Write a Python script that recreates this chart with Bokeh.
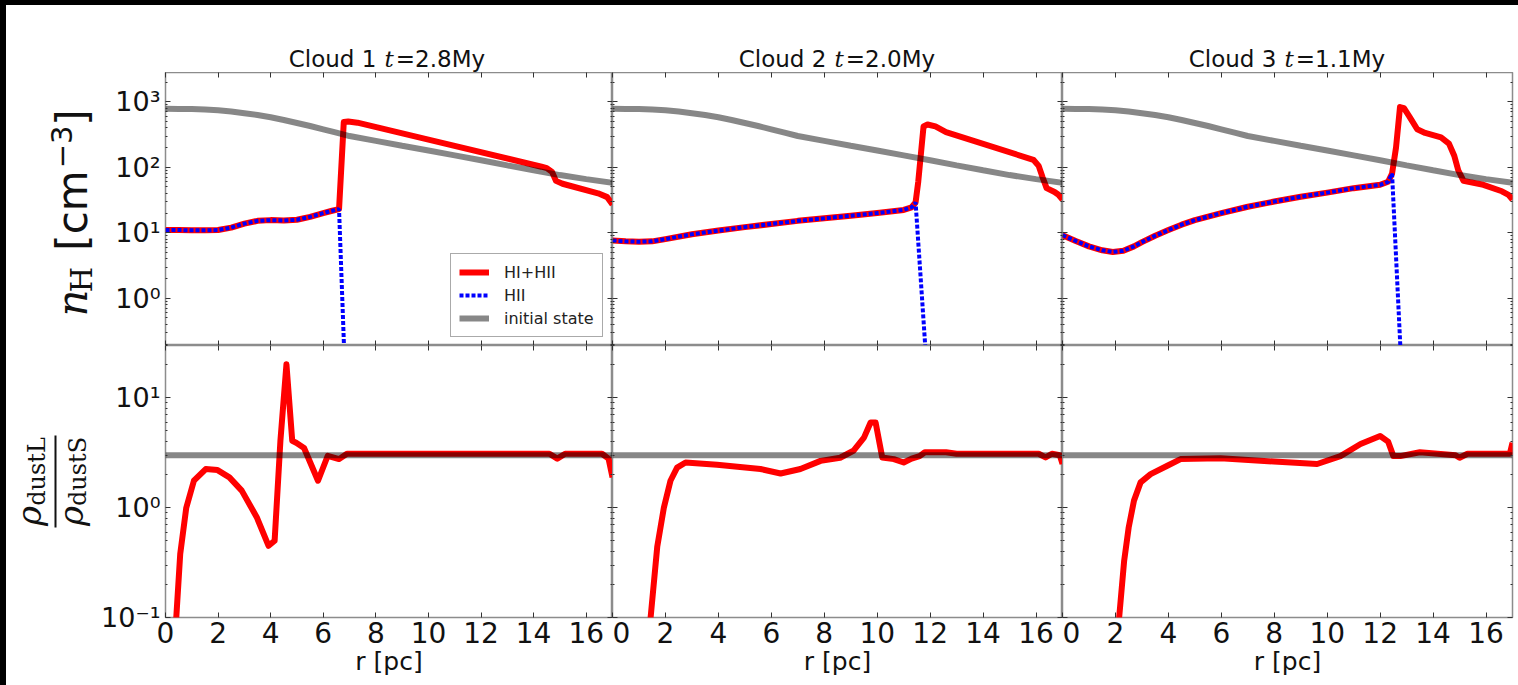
import numpy as np
from bokeh.plotting import figure
from bokeh.models import (LinearAxis, LogAxis, FixedTicker, Legend, LegendItem, Range1d, Spacer, GridBox)
from bokeh.core.properties import value
from bokeh.embed import file_html
from bokeh.resources import INLINE

# ---------------- data ----------------
titles = ["Cloud 1", "Cloud 2", "Cloud 3"]
times = ["=2.8My", "=2.0My", "=1.1My"]

r_init = [0, 0.5, 1, 1.5, 2, 2.5, 3, 3.5, 4, 4.5, 5, 5.5, 6, 6.5, 7, 8, 9, 10, 11, 12, 13, 14, 15, 16, 17]
n_init = [780, 779, 775, 762, 745, 710, 670, 627, 580, 528, 475, 427, 380, 338, 300, 253, 213, 180,
          152, 128, 107, 90, 76, 66, 58]
r_init_ratio = [0, 17]
ratio_init = [3.0, 3.0]

# Cloud 1
r1_tot = [0, 0.5, 1, 1.5, 2, 2.5, 3, 3.5, 4, 4.5, 5, 5.5, 6, 6.3, 6.6, 6.78, 6.95, 7.3, 10, 14.3,
          14.5, 14.7, 14.85, 15.1, 16.45, 16.8, 17]
n1_tot = [11, 11, 10.9, 10.9, 11, 12, 13.8, 15.2, 15.6, 15.4, 15.8, 17.5, 20, 21.5, 23, 490, 500, 480,
          264, 102, 97, 85, 62, 56, 40, 35, 27]
r1_hii = [0, 0.5, 1, 1.5, 2, 2.5, 3, 3.5, 4, 4.5, 5, 5.5, 6, 6.3, 6.6, 6.84]
n1_hii = [11, 11, 10.9, 10.9, 11, 12, 13.8, 15.2, 15.6, 15.4, 15.8, 17.5, 20, 21.5, 23, 0.05]
r1_ratio = [0.35, 0.41, 0.56, 0.79, 1.08, 1.53, 1.98, 2.43, 2.9, 3.47, 3.92, 4.15, 4.37, 4.6, 4.82,
            4.97, 5.27, 5.8, 6.17, 6.6, 6.9, 14.6, 14.9, 15.2, 16.6, 16.85, 17]
ratio1 = [0.04, 0.1, 0.38, 1.0, 1.76, 2.25, 2.2, 1.89, 1.43, 0.82, 0.45, 0.5, 4.06, 20.2, 4.06,
          3.9, 3.5, 1.76, 2.97, 2.77, 3.1, 3.1, 2.8, 3.1, 3.1, 2.8, 1.89]

# Cloud 2
r2_tot = [0, 0.5, 1, 1.5, 2, 3, 4, 5, 6, 7, 8, 9, 10, 11, 11.3, 11.45, 11.55, 11.75, 11.9, 12.2,
          12.6, 15.9, 16.1, 16.25, 16.4, 16.7, 16.85, 17]
n2_tot = [7.6, 7.4, 7.3, 7.4, 8.0, 9.5, 10.8, 12.2, 13.6, 15.2, 16.6, 18.2, 20, 22.3, 24.5, 29, 60,
          420, 450, 420, 345, 130, 105, 70, 48, 42, 38, 32]
r2_hii = [0, 0.5, 1, 1.5, 2, 3, 4, 5, 6, 7, 8, 9, 10, 11, 11.3, 11.45, 11.91]
n2_hii = [7.6, 7.4, 7.3, 7.4, 8.0, 9.5, 10.8, 12.2, 13.6, 15.2, 16.6, 18.2, 20, 22.3, 24.5, 29, 0.05]
r2_ratio = [1.38, 1.44, 1.69, 1.94, 2.19, 2.44, 2.76, 3.95, 5.59, 6.35, 7.1, 7.86, 8.6, 9.1, 9.5,
            9.75, 9.94, 10.19, 10.63, 11.0, 11.3, 11.6, 11.8, 12.6, 13, 16.1, 16.36, 16.6, 16.9, 17]
ratio2 = [0.05, 0.1, 0.44, 1.0, 1.76, 2.32, 2.58, 2.46, 2.25, 2.05, 2.25, 2.67, 2.85, 3.3, 4.35,
          5.97, 5.97, 2.87, 2.77, 2.58, 2.8, 2.95, 3.2, 3.2, 3.1, 3.1, 2.87, 3.1, 3.0, 2.5]

# Cloud 3
r3_tot = [0, 0.5, 1, 1.5, 1.9, 2.3, 2.7, 3, 3.5, 4, 4.5, 5, 6, 7, 8, 9, 10, 11, 12, 12.3, 12.45,
          12.6, 12.75, 12.9, 13.1, 13.4, 13.7, 14.3, 14.6, 14.8, 14.95, 15.15, 15.9, 16.6, 16.85, 17]
n3_tot = [9.2, 7.5, 6.2, 5.4, 5.1, 5.3, 6.2, 7.2, 9, 11, 13.3, 15.6, 20, 25, 30, 35.5, 41, 48, 54,
          60, 80, 200, 830, 800, 600, 380, 335, 285, 230, 150, 90, 62, 54, 43, 38, 32]
r3_hii = [0, 0.5, 1, 1.5, 1.9, 2.3, 2.7, 3, 3.5, 4, 4.5, 5, 6, 7, 8, 9, 10, 11, 12, 12.3, 12.45, 12.83]
n3_hii = [9.2, 7.5, 6.2, 5.4, 5.1, 5.3, 6.2, 7.2, 9, 11, 13.3, 15.6, 20, 25, 30, 35.5, 41, 48, 54,
          60, 80, 0.05]
r3_ratio = [2.1, 2.14, 2.33, 2.5, 2.7, 2.95, 3.33, 3.96, 4.46, 5.97, 7.98, 9.62, 10.5, 11.26, 12.0,
            12.3, 12.5, 12.76, 13.5, 14.85, 15.0, 15.3, 16.9, 17]
ratio3 = [0.05, 0.1, 0.33, 0.66, 1.16, 1.7, 2.02, 2.41, 2.77, 2.82, 2.63, 2.5, 2.95, 3.8, 4.5,
          4.0, 2.95, 2.95, 3.2, 3.0, 2.85, 3.1, 3.1, 3.9]

clouds = [
    (r1_tot, n1_tot, r1_hii, n1_hii, r1_ratio, ratio1),
    (r2_tot, n2_tot, r2_hii, n2_hii, r2_ratio, ratio2),
    (r3_tot, n3_tot, r3_hii, n3_hii, r3_ratio, ratio3),
]

x_ticks = [0, 2, 4, 6, 8, 10, 12, 14, 16]
top_yticks = [1, 10, 100, 1000]
top_ylabels = {1: "10\u2070", 10: "10\u00b9", 100: "10\u00b2", 1000: "10\u00b3"}
bot_yticks = [0.1, 1, 10]
bot_ylabels = {0.1: "10\u207b\u00b9", 1: "10\u2070", 10: "10\u00b9"}
legend_labels = ["HI+HII", "HII", "initial state"]

# ---------------- layout constants ----------------
STRIP_W, STRIP_H = 6, 5
YLAB_W = 92
MB1 = 64
col_w = [MB1 + 450, 450, 456]
mb_left = [MB1, 0, 0]
mb_right = [0, 0, 6]
TITLE_H = 67
TOP_H = 273
BOT_H = 340
TICK_COL = "#333333"
FRAME_COL = "#8c8c8c"
INK = "#111111"


def minor_list(k0, k1):
    return [m * 10.0 ** k for k in range(k0, k1) for m in range(2, 10)]


def style_axis(ax, labels=False, size=28):
    ax.axis_line_color = None
    ax.major_tick_in = 5
    ax.major_tick_out = 0
    ax.minor_tick_in = 2
    ax.minor_tick_out = 0
    ax.major_tick_line_color = TICK_COL
    ax.minor_tick_line_color = TICK_COL
    if labels:
        ax.major_label_text_font = "DejaVu Sans"
        ax.major_label_text_font_size = f"{size}px"
        ax.major_label_text_color = INK
        ax.major_label_standoff = 5
    else:
        ax.major_label_text_font_size = "1px"
        ax.major_label_text_color = None
        ax.major_label_standoff = 0


def make_fig(ci, top):
    if top:
        yr = (0.19, 2800)
        h, mbb = TOP_H, 0
    else:
        yr = (0.1, 30)
        h, mbb = BOT_H, 68
    p = figure(width=col_w[ci], height=h, x_range=Range1d(0, 17), y_range=Range1d(*yr),
               y_axis_type="log", x_axis_location=None, y_axis_location=None,
               toolbar_location=None, output_backend="svg",
               min_border_left=mb_left[ci], min_border_right=mb_right[ci],
               min_border_top=0, min_border_bottom=mbb,
               background_fill_color="white", border_fill_color="white",
               outline_line_color=FRAME_COL, outline_line_width=1.5)
    p.grid.visible = False

    xb = LinearAxis(ticker=FixedTicker(ticks=x_ticks, minor_ticks=[]))
    style_axis(xb, labels=not top)
    if not top:
        xb.axis_label = "r [pc]"
        xb.axis_label_text_font = "DejaVu Sans"
        xb.axis_label_text_font_size = "25px"
        xb.axis_label_text_font_style = "normal"
        xb.axis_label_text_color = INK
        xb.axis_label_standoff = 1
        xb.major_label_standoff = 4
    p.add_layout(xb, "below")
    xa = LinearAxis(ticker=FixedTicker(ticks=x_ticks, minor_ticks=[]))
    style_axis(xa)
    p.add_layout(xa, "above")

    if top:
        yticker = FixedTicker(ticks=top_yticks, minor_ticks=minor_list(-1, 4))
        overrides = top_ylabels
    else:
        yticker = FixedTicker(ticks=bot_yticks, minor_ticks=minor_list(-1, 2))
        overrides = bot_ylabels
    yl = LogAxis(ticker=yticker)
    style_axis(yl, labels=(ci == 0), size=27)
    if ci == 0:
        yl.major_label_overrides = overrides
    p.add_layout(yl, "left")
    yrx = LogAxis(ticker=yticker)
    style_axis(yrx)
    p.add_layout(yrx, "right")
    return p


def text_fig(w, h):
    f = figure(width=w, height=h, x_range=Range1d(0, w), y_range=Range1d(0, h),
               toolbar_location=None, output_backend="svg",
               x_axis_location=None, y_axis_location=None,
               min_border=0, min_border_left=0, min_border_right=0,
               min_border_top=0, min_border_bottom=0, frame_align=False,
               background_fill_color="white", border_fill_color="white", outline_line_color=None)
    f.grid.visible = False
    return f


def put(f, x, y, s, size, font="DejaVu Sans", style="normal", angle=0.0):
    # (x, y) is the centre of the text box
    f.text(x=[x], y=[y], text=[s], angle=angle, text_font=value(font),
           text_font_size=value(f"{size}px"), text_font_style=value(style),
           text_align=value("center"), text_baseline=value("middle"), text_color=INK)


def black(w, h):
    return Spacer(width=w, height=h, styles={"background-color": "black"})


top_figs, bot_figs = [], []
for ci in range(3):
    r_tot, n_tot, r_hii, n_hii, r_rat, rat = clouds[ci]
    pt = make_fig(ci, True)
    l_red = pt.line(r_tot, n_tot, line_color="#ff0000", line_width=6, line_join="round")
    l_blue = pt.line(r_hii, n_hii, line_color="#0000ff", line_width=4, line_dash="4 2")
    l_gray = pt.line(r_init, n_init, line_color="black", line_alpha=0.47, line_width=6)
    if ci == 0:
        leg = Legend(items=[LegendItem(label=legend_labels[0], renderers=[l_red]),
                            LegendItem(label=legend_labels[1], renderers=[l_blue]),
                            LegendItem(label=legend_labels[2], renderers=[l_gray])],
                     location=(285, 8), label_text_font="DejaVu Sans", label_text_font_size="16px",
                     label_text_color="#222222", glyph_width=30, glyph_height=20, label_height=20,
                     spacing=3, padding=8, margin=0, label_standoff=15,
                     border_line_color="#555555", border_line_width=1,
                     background_fill_color="white", background_fill_alpha=1.0)
        pt.add_layout(leg)
    top_figs.append(pt)

    pb = make_fig(ci, False)
    pb.line(r_rat, rat, line_color="#ff0000", line_width=6, line_join="round")
    pb.line(r_init_ratio, ratio_init, line_color="black", line_alpha=0.47, line_width=6)
    bot_figs.append(pb)

# ---- title strips, one per column ----
title_figs = []
for ci in range(3):
    tf = text_fig(col_w[ci], TITLE_H)
    b = mb_left[ci]
    put(tf, b + 170, 13.5, titles[ci], 23)
    put(tf, b + 226.5, 13.5, "t", 23, font="DejaVu Serif", style="italic")
    put(tf, b + 278, 13.5, times[ci], 23)
    title_figs.append(tf)

# ---- y-label strips (pixel coordinates, y up, text centres) ----
ang = np.pi / 2
yfig_top = text_fig(YLAB_W, TOP_H)
put(yfig_top, 65.5, 42.5, "n", 42, font="DejaVu Serif", style="italic", angle=ang)
put(yfig_top, 75, 66, "H", 29, font="DejaVu Serif", angle=ang)
put(yfig_top, 65.5, 135, "[cm", 42, angle=ang)
put(yfig_top, 55, 198.5, "\u22123", 29, angle=ang)
put(yfig_top, 65.5, 228, "]", 42, angle=ang)

yfig_bot = text_fig(YLAB_W, BOT_H)
put(yfig_bot, 22, 169.5, "\u03c1", 34, font="DejaVu Serif", style="italic", angle=ang)
put(yfig_bot, 30.5, 214, "dustL", 24, font="DejaVu Serif", angle=ang)
put(yfig_bot, 64, 169.5, "\u03c1", 34, font="DejaVu Serif", style="italic", angle=ang)
put(yfig_bot, 71.5, 214, "dustS", 24, font="DejaVu Serif", angle=ang)
yfig_bot.segment(x0=[49], y0=[158], x1=[49], y1=[250], line_color=INK, line_width=2)

children = []
# black top strip (row 0) and black left strip (col 0)
widths = [STRIP_W, YLAB_W] + col_w
heights = [STRIP_H, TITLE_H, TOP_H, BOT_H]
for c, w in enumerate(widths):
    children.append((black(w, STRIP_H), 0, c))
for r_, h in enumerate(heights[1:], start=1):
    children.append((black(STRIP_W, h), r_, 0))
children.append((Spacer(width=YLAB_W, height=TITLE_H), 1, 1))
children.append((yfig_top, 2, 1))
children.append((yfig_bot, 3, 1))
for ci in range(3):
    children.append((title_figs[ci], 1, 2 + ci))
    children.append((top_figs[ci], 2, 2 + ci))
    children.append((bot_figs[ci], 3, 2 + ci))

page = GridBox(children=children, spacing=0)
open("out.html", "w").write(file_html(page, INLINE))
